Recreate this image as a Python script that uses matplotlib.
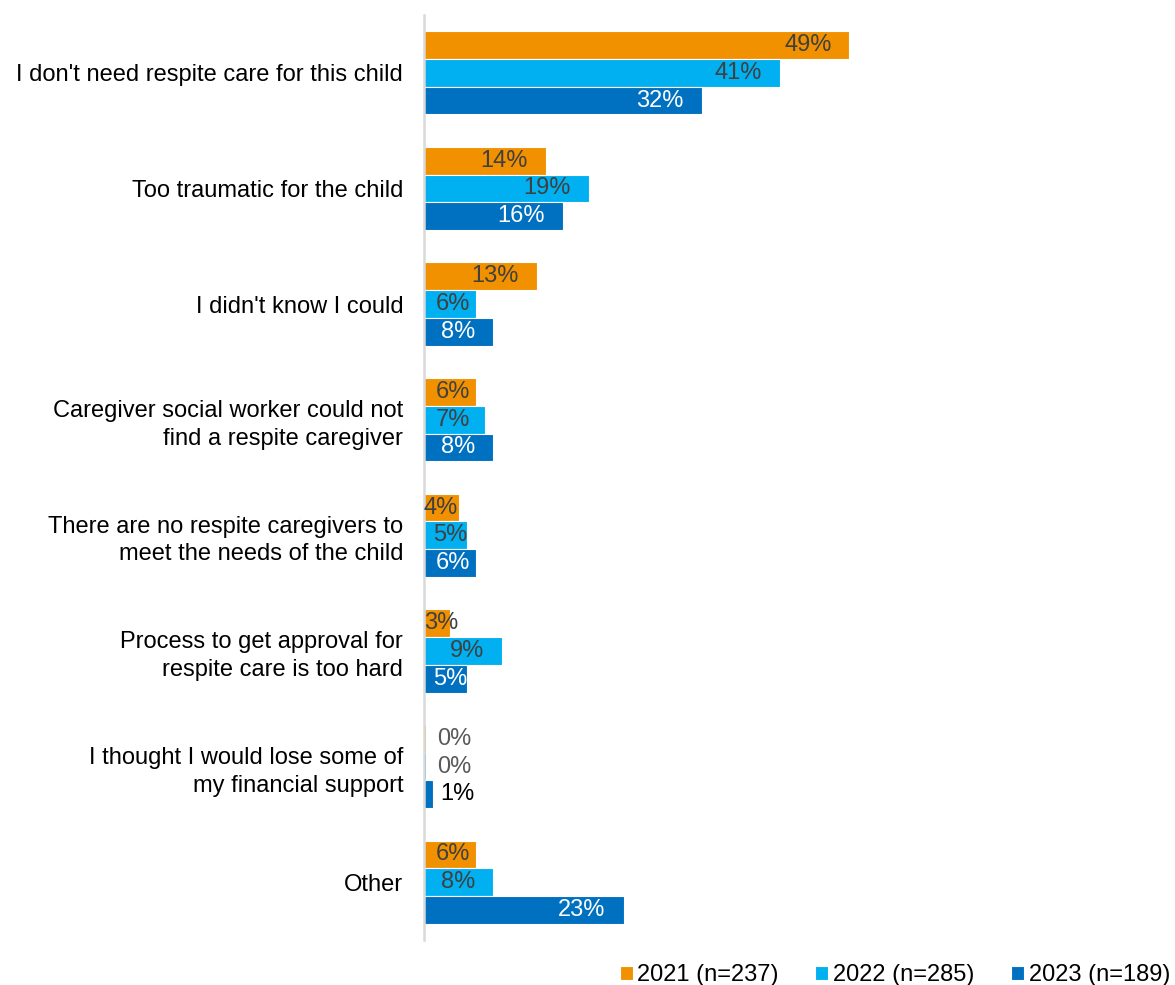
import matplotlib.pyplot as plt
import numpy as np

plt.rcParams['font.family'] = ['Liberation Sans', 'DejaVu Sans']

categories = [
    "I don't need respite care for this child",
    "Too traumatic for the child",
    "I didn't know I could",
    "Caregiver social worker could not\nfind a respite caregiver",
    "There are no respite caregivers to\nmeet the needs of the child",
    "Process to get approval for\nrespite care is too hard",
    "I thought I would lose some of\nmy financial support",
    "Other",
]
series = ["2021 (n=237)", "2022 (n=285)", "2023 (n=189)"]
v2021 = [49, 14, 13, 6, 4, 3, 0.2, 6]
v2022 = [41, 19, 6, 7, 5, 9, 0.2, 8]
v2023 = [32, 16, 8, 8, 6, 5, 1, 23]
shown = [
    [49, 14, 13, 6, 4, 3, 0, 6],
    [41, 19, 6, 7, 5, 9, 0, 8],
    [32, 16, 8, 8, 6, 5, 1, 23],
]

colors = ['#F29100', '#00B0F0', '#0070C0']
text_colors = ['#404040', '#404040', 'white']
fs = 17

fig = plt.figure(figsize=(11.75, 9.85), dpi=100)
ax = fig.add_axes([424 / 1175, 45 / 985, 738 / 1175, 925 / 985])

y = np.arange(len(categories))
h = 0.24
for k, vals in enumerate([v2021, v2022, v2023]):
    pos = y + (k - 1) * h
    ax.barh(pos, vals, height=h, color=colors[k], edgecolor='white',
            linewidth=0.8, label=series[k], zorder=2)
    for yy, v, s in zip(pos, vals, shown[k]):
        lab = f"{s}%"
        kw = dict(va='center', fontsize=fs, zorder=5)
        if s == 0:
            ax.text(1.5, yy, lab, ha='left', color='#595959', **kw)
        elif s <= 2:
            ax.text(v + 0.9, yy, lab, ha='left', color='black', **kw)
        elif s <= 4:
            ax.text(0.0, yy, lab, ha='left', color=text_colors[k], **kw)
        elif s < 7.5:
            ax.text(1.0 if s == 5 else 1.3, yy, lab, ha='left', color=text_colors[k], **kw)
        else:
            ax.text(v - 2.07, yy, lab, ha='right', color=text_colors[k], **kw)

ax.set_xlim(0, 85)
ax.set_ylim(len(categories) - 0.5, -0.5)
ax.set_yticks(y)
ax.set_yticklabels(categories, fontsize=fs, color='black', linespacing=1.32)
ax.tick_params(axis='y', length=0, pad=15)
ax.set_xticks([])
for sp in ['top', 'right', 'bottom']:
    ax.spines[sp].set_visible(False)
ax.spines['left'].set_color('#D9D9D9')
ax.spines['left'].set_linewidth(1.8)

fig.legend(loc='lower right', bbox_to_anchor=(1.004, -0.011), ncol=3, frameon=False,
           fontsize=fs, handlelength=0.55, handleheight=0.55, handletextpad=0.2,
           columnspacing=1.55, borderaxespad=0.0)

fig.savefig('out.png', dpi=100)
